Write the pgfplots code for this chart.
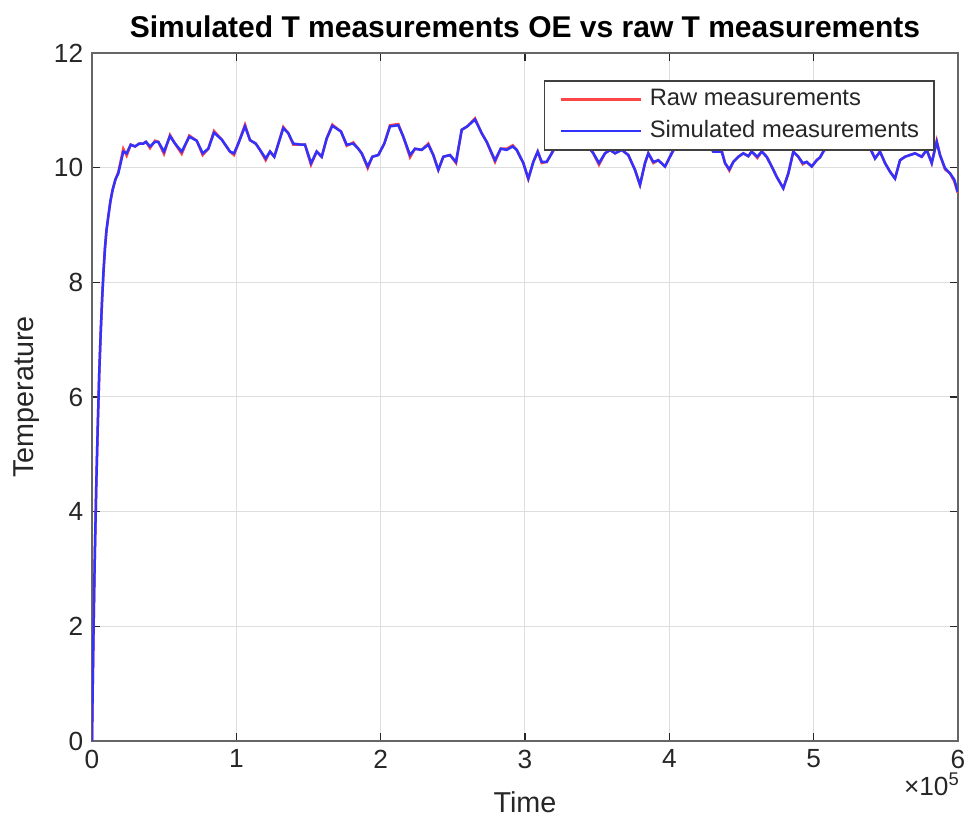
\documentclass[border=0pt]{standalone}
\usepackage{fontspec}
\setmainfont{Liberation Sans}
\usepackage{pgfplots}
\usepackage{pgfplotstable}
\pgfplotsset{compat=1.18}
\usetikzlibrary{calc}
\definecolor{rawc}{RGB}{255,70,70}
\definecolor{simc}{RGB}{50,50,255}
\definecolor{axc}{RGB}{38,38,38}

% time, raw measurement, simulated (OE model) output
\pgfplotstableread{
x raw sim
0 0 0
500 0.95 0.95
1000 1.80 1.80
1500 2.60 2.60
2000 3.30 3.30
3000 4.50 4.50
4000 5.50 5.50
5000 6.40 6.40
6000 7.10 7.10
7000 7.70 7.70
8000 8.20 8.20
9000 8.60 8.60
10000 8.90 8.90
11300 9.15 9.15
12800 9.42 9.42
14342 9.62 9.62
16300 9.80 9.80
18222 9.92 9.90
21687 10.33 10.28
24042 10.21 10.25
26814 10.40 10.40
29793 10.37 10.37
32772 10.42 10.42
35544 10.42 10.42
37414 10.45 10.45
40186 10.34 10.37
43650 10.47 10.45
45937 10.45 10.45
49886 10.24 10.28
54043 10.57 10.55
57507 10.42 10.42
62150 10.24 10.28
67415 10.56 10.54
72542 10.47 10.47
76700 10.22 10.25
80580 10.33 10.33
84529 10.64 10.61
89864 10.49 10.49
95615 10.28 10.28
98386 10.22 10.25
101365 10.42 10.42
106008 10.75 10.72
109472 10.48 10.48
113421 10.42 10.42
116400 10.31 10.31
120350 10.13 10.16
123329 10.28 10.28
126308 10.19 10.19
132544 10.71 10.69
136008 10.60 10.60
139473 10.40 10.42
145293 10.40 10.40
147579 10.40 10.40
151736 10.05 10.08
155686 10.28 10.28
159150 10.19 10.19
162614 10.51 10.51
166494 10.75 10.73
172522 10.63 10.63
176471 10.38 10.40
181044 10.44 10.42
184508 10.33 10.33
186864 10.25 10.25
191021 9.99 10.02
194209 10.19 10.19
198366 10.22 10.22
202523 10.42 10.42
206472 10.74 10.72
212223 10.76 10.74
215687 10.54 10.54
220329 10.18 10.22
223794 10.33 10.33
228436 10.31 10.31
233009 10.42 10.40
236473 10.22 10.22
239937 9.96 9.96
243402 10.19 10.19
248044 10.22 10.22
252201 10.08 10.10
256150 10.66 10.66
260030 10.72 10.72
265365 10.86 10.84
270007 10.60 10.60
273472 10.45 10.45
279223 10.10 10.13
283172 10.33 10.33
287329 10.33 10.31
291486 10.39 10.37
294258 10.31 10.31
298830 10.08 10.08
302295 9.80 9.81
305760 10.10 10.10
308808 10.28 10.28
311580 10.08 10.10
315044 10.10 10.10
318508 10.25 10.25
322873 10.45 10.45
327723 10.60 10.60
332573 10.40 10.40
338116 10.55 10.55
342966 10.40 10.40
347331 10.25 10.25
351280 10.05 10.08
355437 10.25 10.25
358901 10.31 10.31
362366 10.25 10.25
367008 10.31 10.31
371581 10.22 10.22
376223 9.96 9.96
379687 9.70 9.70
383152 10.08 10.08
385438 10.25 10.25
388902 10.08 10.10
392367 10.13 10.13
397009 10.02 10.02
401651 10.25 10.25
406016 10.45 10.45
411559 10.60 10.60
417102 10.40 10.40
422645 10.55 10.55
427495 10.40 10.40
430474 10.28 10.28
436295 10.30 10.28
438580 10.08 10.08
441560 9.95 9.97
444331 10.10 10.10
447796 10.19 10.19
451260 10.25 10.25
454724 10.20 10.20
457080 10.28 10.28
460960 10.17 10.19
464008 10.28 10.28
467472 10.19 10.19
470937 10.02 10.02
474401 9.84 9.84
478974 9.64 9.64
482438 9.90 9.90
485903 10.28 10.28
489367 10.19 10.19
492416 10.06 10.08
495187 10.10 10.10
498652 10.02 10.02
502116 10.13 10.13
504402 10.18 10.18
506689 10.28 10.28
511331 10.45 10.45
516874 10.60 10.60
522416 10.45 10.45
527959 10.55 10.55
533502 10.45 10.45
537659 10.38 10.38
540223 10.28 10.28
542509 10.16 10.16
545976 10.28 10.28
549438 10.08 10.08
552902 9.93 9.93
556367 9.81 9.81
559831 10.13 10.13
563295 10.19 10.19
566759 10.22 10.22
570224 10.25 10.25
574866 10.19 10.19
578330 10.31 10.31
581795 10.08 10.08
585259 10.47 10.45
587545 10.22 10.22
591010 9.97 9.99
594474 9.90 9.90
597453 9.76 9.79
599800 9.56 9.58
}\Tdata

\begin{document}
\begin{tikzpicture}
\begin{axis}[
  scale only axis,
  width=346.4pt, height=275.2pt,
  xmin=0, xmax=600000, ymin=0, ymax=12,
  xtick={0,100000,200000,300000,400000,500000,600000},
  ytick={0,2,4,6,8,10,12},
  scaled x ticks=base 10:-5,
  xtick scale label code/.code={×10\textsuperscript{5}},
  every x tick scale label/.style={at={(rel axis cs:1,0)}, anchor=north east,
    yshift=-12.5pt, xshift=1pt, inner sep=0pt,
    font=\fontsize{10.5}{12}\selectfont, text=axc},
  /pgf/number format/assume math mode=true,
  tick label style={font=\fontsize{10.5}{12}\selectfont, text=axc},
  grid=major,
  major grid style={black!13, line width=0.4pt},
  axis line style={black!60, line width=0.6pt},
  major tick length=3.2pt,
  tick style={axc, line width=0.5pt},
  tick align=inside,
  title={Simulated T measurements OE vs raw T measurements},
  title style={font=\bfseries\fontsize{12}{14}\selectfont, text=black,
    at={(rel axis cs:0.5,1.0363)}, anchor=center, yshift=-5.6pt},
  xlabel={Time},
  ylabel={Temperature},
  xlabel style={font=\fontsize{11.5}{13}\selectfont, text=axc,
    at={(rel axis cs:0.5,-0.0887)}, anchor=center},
  ylabel style={font=\fontsize{11.5}{13}\selectfont, text=axc,
    at={(rel axis cs:-0.0751,0.5)}, anchor=center},
  legend cell align=left,
  legend image code/.code={\draw[#1,line width=0.9pt] (0pt,0pt) -- (32pt,0pt);},
  legend style={at={(rel axis cs:1,1)}, anchor=north east,
    xshift=-9.2pt, yshift=-10.8pt,
    draw=black!75, line width=0.7pt, fill=white,
    font=\fontsize{9.5}{11}\selectfont, text=axc,
    inner xsep=6pt, inner ysep=3pt, row sep=3.6pt,
    nodes={inner sep=0pt, text height=7pt, text depth=2pt},
    /tikz/every odd column/.append style={column sep=3.2pt}},
]
\addplot[rawc, line width=1pt] table[x=x, y=raw] {\Tdata};
\addlegendentry{Raw measurements}
\addplot[simc, line width=1pt] table[x=x, y=sim] {\Tdata};
\addlegendentry{Simulated measurements}
\end{axis}
\pgfresetboundingbox
\path[use as bounding box] ($(current axis.south west)+(-36.8pt,-32pt)$)
  rectangle ($(current axis.north east)+(3.2pt,21.2pt)$);
\end{tikzpicture}
\end{document}
